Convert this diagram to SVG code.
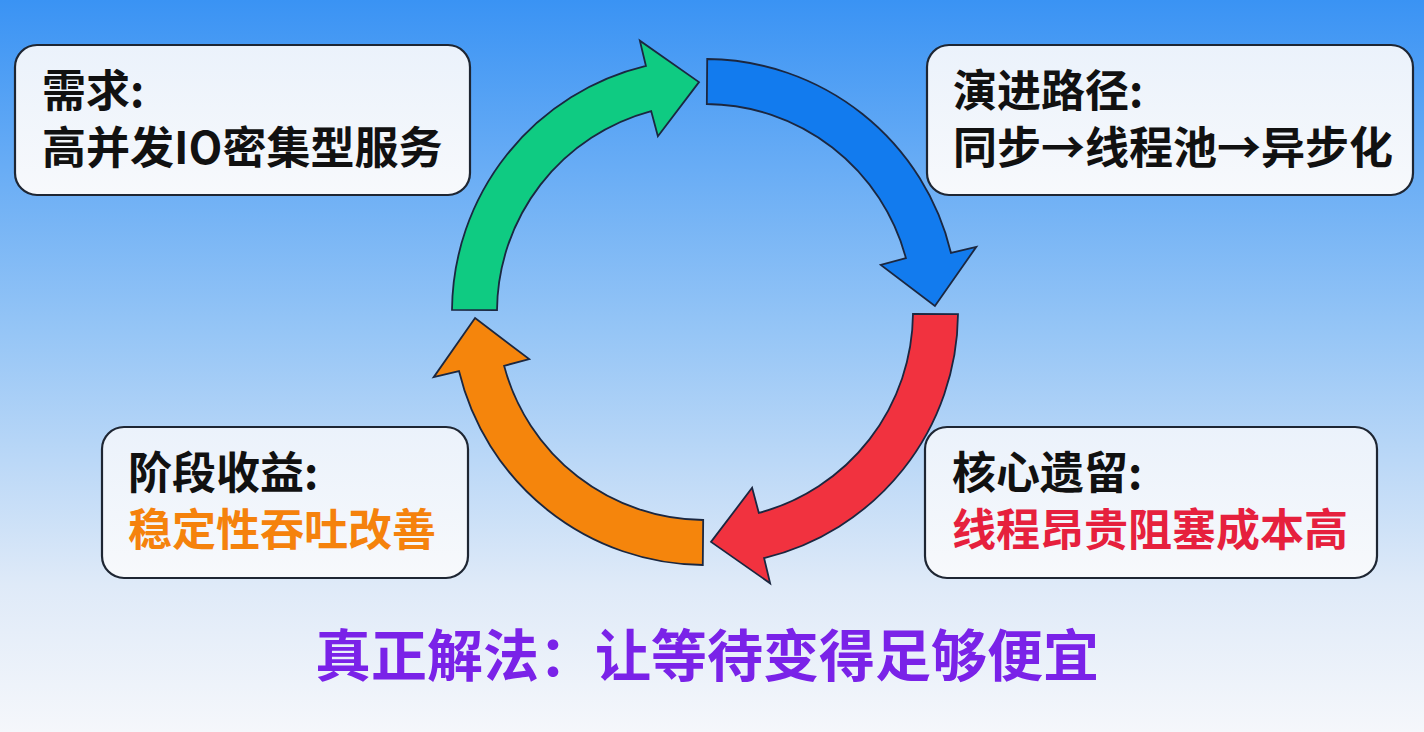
<svg xmlns="http://www.w3.org/2000/svg" width="1424" height="732" viewBox="0 0 1424 732">
  <defs>
    <linearGradient id="bg" x1="0" y1="0" x2="0" y2="1">
      <stop offset="0" stop-color="#3a93f4"/>
      <stop offset="0.45" stop-color="#95c5f6"/>
      <stop offset="0.8" stop-color="#dfeaf8"/>
      <stop offset="1" stop-color="#f5f7fb"/>
    </linearGradient>
    <linearGradient id="boxfill" x1="0" y1="0" x2="0" y2="1">
      <stop offset="0" stop-color="#ebf2fb"/>
      <stop offset="1" stop-color="#f7f9fc"/>
    </linearGradient>
    <style>
      .box { fill: url(#boxfill); stroke: #1e2633; stroke-width: 2.2; }
      .t { font-family: "Noto Sans CJK SC", "Noto Sans", sans-serif; font-weight: 700; font-size: 44px; fill: #111111; }
      .arrow { stroke: #1b2740; stroke-width: 1.8; stroke-linejoin: miter; }
      .orange { fill: #f5820c; }
      .red { fill: #e6203d; }
      .main { font-family: "Noto Sans CJK SC", "Noto Sans", sans-serif; font-weight: 700; font-size: 56px; fill: #7a22e8; }
    </style>
  </defs>
  <rect x="0" y="0" width="1424" height="732" fill="url(#bg)"/>

  <g id="connectors">
    <path id="arrow-green" class="arrow" fill="#0fcb82" d="M452.01,309.79 A253,253 0 0 1 645.94,65.99 L639.87,40.71 L698.98,82.08 L657.89,136.20 L651.17,111.09 A208,208 0 0 0 497.01,310.18 Z"/>
    <path id="arrow-blue" class="arrow" fill="#127bee" d="M707.21,59.01 A253,253 0 0 1 951.01,252.94 L976.29,246.87 L934.92,305.98 L880.80,264.89 L905.91,258.17 A208,208 0 0 0 706.82,104.01 Z"/>
    <path id="arrow-red" class="arrow" fill="#f1323f" d="M957.99,314.21 A253,253 0 0 1 764.06,558.01 L770.13,583.29 L711.02,541.92 L752.11,487.80 L758.83,512.91 A208,208 0 0 0 912.99,313.82 Z"/>
    <path id="arrow-orange" class="arrow" fill="#f5850c" d="M702.79,564.99 A253,253 0 0 1 458.99,371.06 L433.71,377.13 L475.08,318.02 L529.20,359.11 L504.09,365.83 A208,208 0 0 0 703.18,519.99 Z"/>
  </g>

  <g id="node-demand">
    <rect class="box" x="15" y="45" width="455" height="150" rx="22"/>
    <text class="t"><tspan x="42" y="107">需求:</tspan><tspan x="42" y="164">高并发IO密集型服务</tspan></text>
  </g>

  <g id="node-evolution">
    <rect class="box" x="927" y="45" width="486" height="150" rx="22"/>
    <text class="t"><tspan x="953" y="107">演进路径:</tspan><tspan x="953" y="164">同步→线程池→异步化</tspan></text>
  </g>

  <g id="node-gain">
    <rect class="box" x="102" y="427" width="366" height="151" rx="22"/>
    <text class="t"><tspan x="128" y="489">阶段收益:</tspan><tspan class="orange" x="128" y="546">稳定性吞吐改善</tspan></text>
  </g>

  <g id="node-legacy">
    <rect class="box" x="925" y="427" width="452" height="151" rx="22"/>
    <text class="t"><tspan x="952" y="489">核心遗留:</tspan><tspan class="red" x="952" y="546">线程昂贵阻塞成本高</tspan></text>
  </g>

  <g id="conclusion">
    <text class="main" x="707" y="676" text-anchor="middle">真正解法：让等待变得足够便宜</text>
  </g>
</svg>
